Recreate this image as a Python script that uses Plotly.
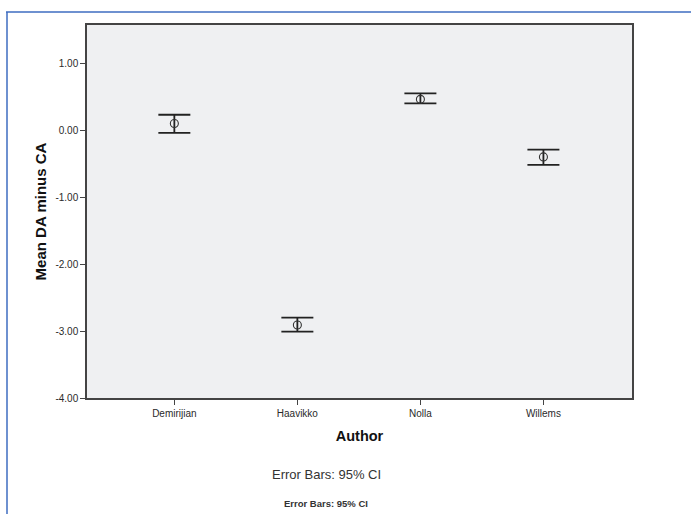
import plotly.graph_objects as go

# Mean difference (DA - CA) per author with 95% confidence limits
authors = ["Demirijian", "Haavikko", "Nolla", "Willems"]
mean_diff = [0.10, -2.91, 0.46, -0.40]
ci_upper = [0.23, -2.80, 0.55, -0.29]
ci_lower = [-0.04, -3.01, 0.40, -0.52]

y_ticks = [1.0, 0.0, -1.0, -2.0, -3.0, -4.0]
y_tick_text = ["1.00", "0.00", "-1.00", "-2.00", "-3.00", "-4.00"]

err_plus = [u - m for u, m in zip(ci_upper, mean_diff)]
err_minus = [m - l for m, l in zip(mean_diff, ci_lower)]

W, H = 691, 514
L, R, T, B = 87, 59, 25, 116
plot_w = W - L - R
plot_h = H - T - B


def px_x(x):
    return (x - L) / plot_w


def px_y(y):
    return (H - B - y) / plot_h


fig = go.Figure()
fig.add_trace(go.Scatter(
    x=authors,
    y=mean_diff,
    mode="markers",
    marker=dict(symbol="circle-open", size=8, color="#333333",
                line=dict(width=1.1, color="#333333")),
    error_y=dict(type="data", symmetric=False, array=err_plus,
                 arrayminus=err_minus, width=16, thickness=1.8,
                 color="#222222"),
    showlegend=False,
    hoverinfo="skip",
))

axis_font = dict(family="Arial, Liberation Sans, sans-serif", size=10, color="#2a2a2a")

fig.update_layout(
    width=W, height=H,
    margin=dict(l=L, r=R, t=T, b=B, pad=0),
    paper_bgcolor="white",
    plot_bgcolor="#EFF0F2",
    font=dict(family="Arial, Liberation Sans, sans-serif", color="#222222"),
    xaxis=dict(
        range=[-0.71, 3.72],
        showgrid=False, zeroline=False,
        showline=True, linecolor="#444444", linewidth=1.5, mirror=True,
        ticks="outside", ticklen=5, tickwidth=1.3, tickcolor="#444444",
        tickfont=axis_font,
        title=dict(text="<b>Author</b>", font=dict(size=14.5, color="#111111"), standoff=13),
    ),
    yaxis=dict(
        range=[-4.0, 1.57],
        tickvals=y_ticks, ticktext=y_tick_text,
        showgrid=False, zeroline=False,
        showline=True, linecolor="#444444", linewidth=1.5, mirror=True,
        ticks="outside", ticklen=5, tickwidth=1.3, tickcolor="#444444",
        tickfont=axis_font,
        title=dict(text="<b>Mean DA minus CA</b>", font=dict(size=15, color="#111111"), standoff=5),
    ),
    annotations=[
        dict(text="Error Bars: 95% CI", xref="paper", yref="paper",
             x=px_x(326), y=px_y(475), showarrow=False,
             xanchor="center", yanchor="middle",
             font=dict(size=13, color="#333333")),
        dict(text="<b>Error Bars: 95% CI</b>", xref="paper", yref="paper",
             x=px_x(326), y=px_y(503), showarrow=False,
             xanchor="center", yanchor="middle",
             font=dict(size=9.5, color="#333333")),
    ],
    shapes=[
        dict(type="line", xref="paper", yref="paper",
             x0=px_x(6), x1=px_x(W), y0=px_y(12), y1=px_y(12),
             line=dict(color="#3E6CC0", width=1.5)),
        dict(type="line", xref="paper", yref="paper",
             x0=px_x(7), x1=px_x(7), y0=px_y(12), y1=px_y(H),
             line=dict(color="#3E6CC0", width=1.5)),
    ],
)

fig.write_html("out.html")
